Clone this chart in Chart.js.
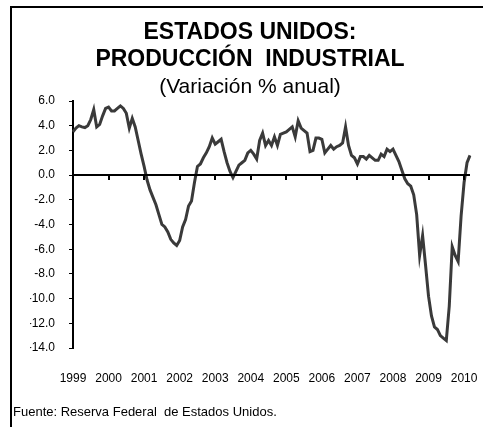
<!DOCTYPE html>
<html lang="es">
<head>
    <meta charset="UTF-8">
    <title>Producción industrial EE.UU.</title>
    <script src="https://cdn.jsdelivr.net/npm/chart.js"></script>
    <style type="text/css">
        body{
            margin: 0;
            background: #fff;
        }
        .grafica{
            width: 483px;
            height: 427px;
            position: relative;
        }
    </style>
</head>
<body>
    <div class="grafica">
        <canvas id="myChart"></canvas>
    </div>
    <script>
        // etiquetas del eje x (años) y valores mensuales ene-1999 a mar-2010
        const anios = ['1999','2000','2001','2002','2003','2004','2005','2006','2007','2008','2009','2010'];
        const meses = [];
        for (let i = 0; i < 135; i++) {
            meses.push(anios[Math.floor(i / 12)] + '-' + String(i % 12 + 1).padStart(2, '0'));
        }
        const valores = [
            3.5, 3.8, 4.0, 3.9, 3.85, 4.0, 4.5, 5.3, 3.9, 4.1, 4.8, 5.4,          // 1999
            5.5, 5.2, 5.2, 5.4, 5.6, 5.4, 5.0, 3.8, 4.6, 3.9, 2.8, 1.7,           // 2000
            0.7, -0.4, -1.2, -1.8, -2.4, -3.2, -4.0, -4.2, -4.6, -5.2, -5.5, -5.7, // 2001
            -5.3, -4.2, -3.6, -2.5, -2.1, -0.6, 0.7, 0.9, 1.4, 1.8, 2.3, 3.0,     // 2002
            2.5, 2.7, 2.9, 1.9, 1.0, 0.3, -0.2, 0.3, 0.8, 1.0, 1.2, 1.8,          // 2003
            2.0, 1.7, 1.3, 2.8, 3.4, 2.4, 2.8, 2.4, 3.1, 2.4, 3.3, 3.4,           // 2004
            3.5, 3.7, 3.9, 3.1, 4.4, 3.8, 3.6, 3.4, 1.9, 2.0, 3.0, 3.0,           // 2005
            2.9, 1.8, 2.1, 2.4, 2.1, 2.3, 2.4, 2.6, 3.9, 2.4, 1.6, 1.4,           // 2006
            0.9, 1.5, 1.5, 1.3, 1.6, 1.4, 1.2, 1.2, 1.7, 1.5, 2.1, 1.9,           // 2007
            2.1, 1.6, 1.1, 0.4, -0.3, -0.7, -0.9, -1.6, -3.2, -6.5, -4.9, -7.3,   // 2008
            -9.8, -11.4, -12.3, -12.5, -13.0, -13.2, -13.4, -10.6, -5.8, -6.5, -7.0, -3.3, // 2009
            -0.6, 1.0, 1.6                                                       // 2010
        ];
        const yMin = -14;
        const yMax = 6;

        const fuente = 'Liberation Sans, Arial, sans-serif';

        // marco, linea del cero con marcas por año y nota de fuente
        const marco = {
            id: 'marco',
            beforeDraw(chart) {
                const ctx = chart.ctx;
                ctx.save();
                ctx.fillStyle = '#fff';
                ctx.fillRect(0, 0, chart.width, chart.height);
                ctx.strokeStyle = '#000';
                ctx.lineWidth = 2;
                ctx.strokeRect(11, 7, 600, 600);
                ctx.restore();
            },
            afterDatasetsDraw(chart) {
                const ctx = chart.ctx;
                const x = chart.scales.x;
                const y0 = Math.round(chart.scales.y.getPixelForValue(0));
                ctx.save();
                ctx.strokeStyle = '#000';
                ctx.lineWidth = 2;
                ctx.beginPath();
                ctx.moveTo(chart.chartArea.left, y0);
                ctx.lineTo(chart.chartArea.right, y0);
                for (let i = 12; i < meses.length; i += 12) {
                    const px = Math.round(x.getPixelForValue(i));
                    ctx.moveTo(px, y0);
                    ctx.lineTo(px, y0 + 5);
                }
                ctx.stroke();
                ctx.restore();
            },
            afterDraw(chart) {
                const ctx = chart.ctx;
                ctx.save();
                ctx.fillStyle = '#000';
                ctx.font = '13px ' + fuente;
                ctx.textBaseline = 'alphabetic';
                ctx.fillText('Fuente: Reserva Federal  de Estados Unidos.', 13, 416);
                ctx.restore();
            }
        };

        const config = {
            type: 'line',
            data: {
                labels: meses,
                datasets: [{
                    data: valores,
                    borderColor: '#3a3a3a',
                    borderWidth: 3,
                    pointRadius: 0,
                    tension: 0,
                    fill: false
                }]
            },
            options: {
                responsive: true,
                maintainAspectRatio: false,
                animation: false,
                layout: {
                    padding: {left: 30, right: 13, top: 8, bottom: 41}
                },
                plugins: {
                    legend: {display: false},
                    tooltip: {enabled: false},
                    title: {
                        display: true,
                        text: ['ESTADOS UNIDOS:', 'PRODUCCIÓN  INDUSTRIAL'],
                        color: '#000',
                        font: {family: fuente, size: 23, weight: 'bold', lineHeight: '27px'},
                        padding: {top: 11, bottom: 3}
                    },
                    subtitle: {
                        display: true,
                        text: '(Variación % anual)',
                        color: '#000',
                        font: {family: fuente, size: 21, lineHeight: '22px'},
                        padding: {top: 0, bottom: 3}
                    }
                },
                scales: {
                    x: {
                        type: 'category',
                        offset: false,
                        grid: {display: false, drawTicks: false},
                        border: {display: false},
                        afterFit: function(scale) {
                            // las etiquetas quedan lejos del eje, sin ocupar el doble
                            scale.height = 38;
                            scale.paddingLeft = 0;
                            scale.paddingRight = 0;
                        },
                        ticks: {
                            autoSkip: false,
                            maxRotation: 0,
                            padding: 23,
                            color: '#000',
                            font: {family: fuente, size: 12},
                            callback: function(v, i) {
                                return i % 12 === 0 ? anios[i / 12] : null;
                            }
                        }
                    },
                    y: {
                        min: yMin,
                        max: yMax,
                        afterFit: function(scale) {
                            scale.width = 43;
                        },
                        grid: {
                            drawOnChartArea: false,
                            drawTicks: true,
                            tickLength: 4,
                            color: '#000'
                        },
                        border: {display: true, color: '#000', width: 2},
                        ticks: {
                            stepSize: 2,
                            padding: 14,
                            color: '#000',
                            font: {family: fuente, size: 12},
                            callback: function(v) {
                                return v.toFixed(1);
                            }
                        }
                    }
                }
            },
            plugins: [marco]
        };
        const myChart = new Chart(
            document.getElementById('myChart'),
            config
        );
    </script>
</body>
</html>
